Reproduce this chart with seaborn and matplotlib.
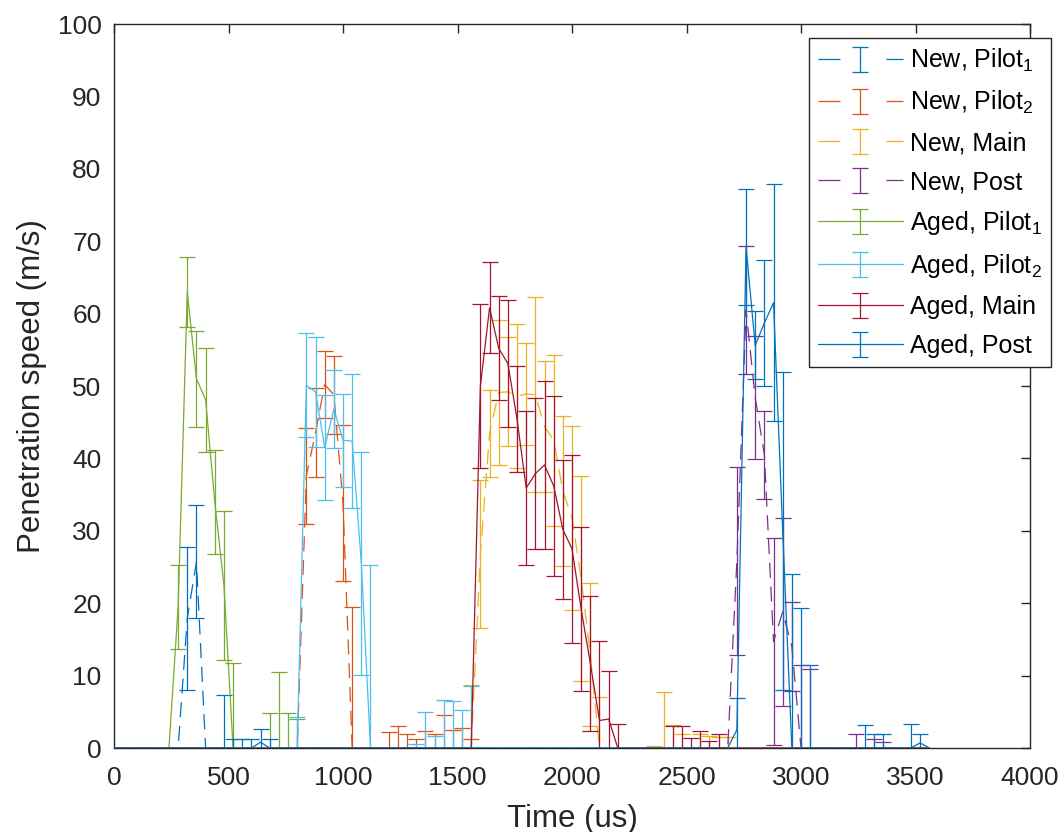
import numpy as np
import pandas as pd
import matplotlib
matplotlib.use("Agg")
import matplotlib.pyplot as plt
import seaborn as sns
from matplotlib.lines import Line2D
from matplotlib.legend_handler import HandlerTuple, HandlerErrorbar
from matplotlib.container import ErrorbarContainer

# ---------------- data (time in us, mean speed and error in m/s) ----------------
series_names = ["New, Pilot$_1$", "New, Pilot$_2$", "New, Main", "New, Post",
                "Aged, Pilot$_1$", "Aged, Pilot$_2$", "Aged, Main", "Aged, Post"]

t_new_pilot1 = [0, 280, 320, 360, 400, 480, 3560]
v_new_pilot1 = [0, 0, 17.9, 25.7, 0, 0, 0]
e_new_pilot1 = [0, 0, 9.9, 7.8, 0, 7.3, 0]

t_new_pilot2 = [0, 800, 840, 880, 920, 960, 1000, 1040, 1200, 1240, 1280, 1320, 1360, 1400, 1440, 1480, 1520, 1560, 3560]
v_new_pilot2 = [0, 0, 37.6, 43.6, 50.2, 48.8, 33.8, 0, 0, 0, 0, 0, 0, 0, 0, 0, 0, 0, 0]
e_new_pilot2 = [0, 0, 6.6, 6.1, 4.6, 5.4, 10.8, 19.5, 2.2, 3.1, 1.9, 1.2, 2.3, 1.9, 4.5, 2.5, 2.8, 1.2, 0]

t_new_main = [0, 1560, 1600, 1640, 1680, 1720, 1760, 1800, 1840, 1880, 1920, 1960, 2000, 2040, 2080, 2120,
              2360, 2400, 2440, 2480, 2560, 2600, 2640, 2680, 3560]
v_new_main = [0, 0, 26.8, 43.5, 49.1, 49.2, 48.6, 48.9, 48.8, 44.4, 42.5, 35.5, 31.8, 23.4, 12.9, 0,
              0, 0, 0, 0, 0, 0, 0, 0, 0]
e_new_main = [0, 8.7, 10.2, 6.0, 10.0, 7.5, 9.9, 7.0, 13.5, 9.1, 11.8, 10.3, 12.7, 14.2, 9.9, 7.1,
              0.3, 7.8, 3.2, 1.9, 2.0, 1.6, 1.5, 1.5, 0]

t_new_post = [0, 2680, 2720, 2760, 2800, 2840, 2880, 2920, 2960, 3000, 3040, 3240, 3320, 3360, 3560]
v_new_post = [0, 0, 25.8, 60.5, 48.4, 40.5, 14.7, 18.8, 14.0, 0, 0, 0, 0, 0, 0]
e_new_post = [0, 0, 13.0, 8.8, 8.5, 6.1, 14.3, 13.0, 6.1, 11.4, 10.9, 1.9, 1.3, 0.8, 0]

t_aged_pilot1 = [0, 240, 280, 320, 360, 400, 440, 480, 520, 680, 720, 760, 800, 3560]
v_aged_pilot1 = [0, 0, 19.5, 63.0, 51.0, 48.1, 34.0, 22.5, 0, 0, 0, 0, 0, 0]
e_aged_pilot1 = [0, 0, 5.8, 4.8, 6.6, 7.2, 7.2, 10.3, 11.8, 4.8, 10.5, 4.8, 4.0, 0]

t_aged_pilot2 = [0, 800, 840, 880, 920, 960, 1000, 1040, 1080, 1120, 1320, 1360, 1400, 1440, 1480, 1520, 1560, 3560]
v_aged_pilot2 = [0, 0, 50.1, 49.2, 41.5, 46.8, 42.5, 42.4, 25.5, 0, 0, 0, 0, 0, 0, 0, 0, 0]
e_aged_pilot2 = [0, 4.3, 7.2, 7.6, 7.2, 5.4, 6.4, 9.2, 15.4, 25.3, 0.5, 5.0, 1.7, 6.6, 6.5, 5.2, 8.6, 0]

t_aged_main = [0, 1560, 1600, 1640, 1680, 1720, 1760, 1800, 1840, 1880, 1920, 1960, 2000, 2040, 2080, 2120, 2160, 2200,
               2440, 2480, 2520, 2560, 2600, 2640, 3560]
v_aged_main = [0, 0, 50.0, 60.8, 55.2, 53.1, 45.4, 35.9, 37.9, 39.1, 36.2, 30.2, 27.5, 19.2, 11.7, 3.8, 4.0, 0,
               0, 0, 0, 0, 0, 0, 0]
e_aged_main = [0, 0, 11.3, 6.3, 7.2, 8.8, 7.3, 10.6, 10.4, 11.6, 12.4, 9.6, 13.0, 11.3, 9.3, 11.0, 6.7, 3.3,
               3.1, 3.1, 1.4, 2.4, 0.9, 1.9, 0]

t_aged_post = [0, 480, 520, 560, 600, 640, 680, 800, 2680, 2720, 2760, 2800, 2840, 2880, 2920, 2960, 3000, 3040,
               3280, 3320, 3360, 3480, 3520, 3560]
v_aged_post = [0, 0, 0, 0, 0, 0.8, 0, 0, 0, 2.5, 69.2, 55.6, 58.7, 61.5, 30.0, 0, 0, 0,
               0, 0, 0, 0, 0.7, 0]
e_aged_post = [0, 0, 1.3, 1.3, 1.3, 1.8, 1.3, 0, 0, 4.4, 8.0, 4.7, 8.7, 16.4, 22.0, 24.0, 19.3, 11.4,
               3.2, 1.9, 1.9, 3.3, 1.3, 0]

x_ticks = [0, 500, 1000, 1500, 2000, 2500, 3000, 3500, 4000]
y_ticks = [0, 10, 20, 30, 40, 50, 60, 70, 80, 90, 100]

# ---------------- style ----------------
sns.set_style("white")
plt.rcParams["font.family"] = ["Liberation Sans", "DejaVu Sans"]
plt.rcParams["mathtext.fontset"] = "custom"
plt.rcParams["mathtext.rm"] = "Liberation Sans"
plt.rcParams["mathtext.it"] = "Liberation Sans:italic"
plt.rcParams["mathtext.default"] = "regular"

colors = [(0, 0.447, 0.741), (0.85, 0.325, 0.098), (0.929, 0.694, 0.125), (0.494, 0.184, 0.556),
          (0.466, 0.674, 0.188), (0.301, 0.745, 0.933), (0.635, 0.078, 0.184), (0, 0.447, 0.741)]
dashed = [True, True, True, True, False, False, False, False]

all_t = [t_new_pilot1, t_new_pilot2, t_new_main, t_new_post, t_aged_pilot1, t_aged_pilot2, t_aged_main, t_aged_post]
all_v = [v_new_pilot1, v_new_pilot2, v_new_main, v_new_post, v_aged_pilot1, v_aged_pilot2, v_aged_main, v_aged_post]
all_e = [e_new_pilot1, e_new_pilot2, e_new_main, e_new_post, e_aged_pilot1, e_aged_pilot2, e_aged_main, e_aged_post]

fig, ax = plt.subplots(figsize=(10.62, 8.32), dpi=100)
fig.subplots_adjust(left=114 / 1062, right=1030 / 1062, bottom=1 - 748 / 832, top=1 - 24 / 832)

axc = "#262626"
lw = 0.9
handles = []
for name, t, v, e, col, dsh in zip(series_names, all_t, all_v, all_e, colors, dashed):
    df = pd.DataFrame({"Time": t, "Speed": v, "Err": e})
    ls = (0, (12, 7)) if dsh else "-"
    sns.lineplot(data=df, x="Time", y="Speed", ax=ax, color=col, linewidth=lw, linestyle=ls,
                 errorbar=None, legend=False, sort=False, zorder=3)
    sub = df[df["Err"] > 0]
    eb = ax.errorbar(sub["Time"], sub["Speed"], yerr=sub["Err"], fmt="none", ecolor=col,
                     elinewidth=lw, capsize=5.75, capthick=lw, zorder=3)
    proxy = Line2D([], [], color=col, lw=lw, linestyle=(0, (17.6, 36.8)) if dsh else "-")
    handles.append((proxy, eb))

ax.set_xlim(0, 4000)
ax.set_ylim(0, 100)
ax.set_xticks(x_ticks)
ax.set_yticks(y_ticks)
ax.tick_params(direction="in", top=True, right=True, length=6.5, width=1.0,
               labelsize=19, colors=axc, labelcolor=axc, pad=9)
ax.tick_params(axis="x", pad=13)
for sp in ax.spines.values():
    sp.set_color(axc)
    sp.set_linewidth(1.0)
    sp.set_visible(True)
ax.set_xlabel("Time (us)", fontsize=22.5, color=axc, labelpad=10)
ax.set_ylabel("Penetration speed (m/s)", fontsize=22.5, color=axc, labelpad=8)

leg = ax.legend(handles, series_names,
                handler_map={tuple: HandlerTuple(ndivide=1, pad=0),
                             ErrorbarContainer: HandlerErrorbar(yerr_size=0.5)},
                loc="upper left", bbox_to_anchor=(809 / 1062, 1 - 38 / 832), bbox_transform=fig.transFigure,
                fontsize=18, frameon=True, fancybox=False, framealpha=1, edgecolor=axc,
                handlelength=3.4, handletextpad=0.3, labelspacing=0.6, borderpad=0.35, borderaxespad=0)
leg.get_frame().set_linewidth(1.0)
for txt in leg.get_texts():
    txt.set_color("black")

fig.savefig("out.png", dpi=100)
